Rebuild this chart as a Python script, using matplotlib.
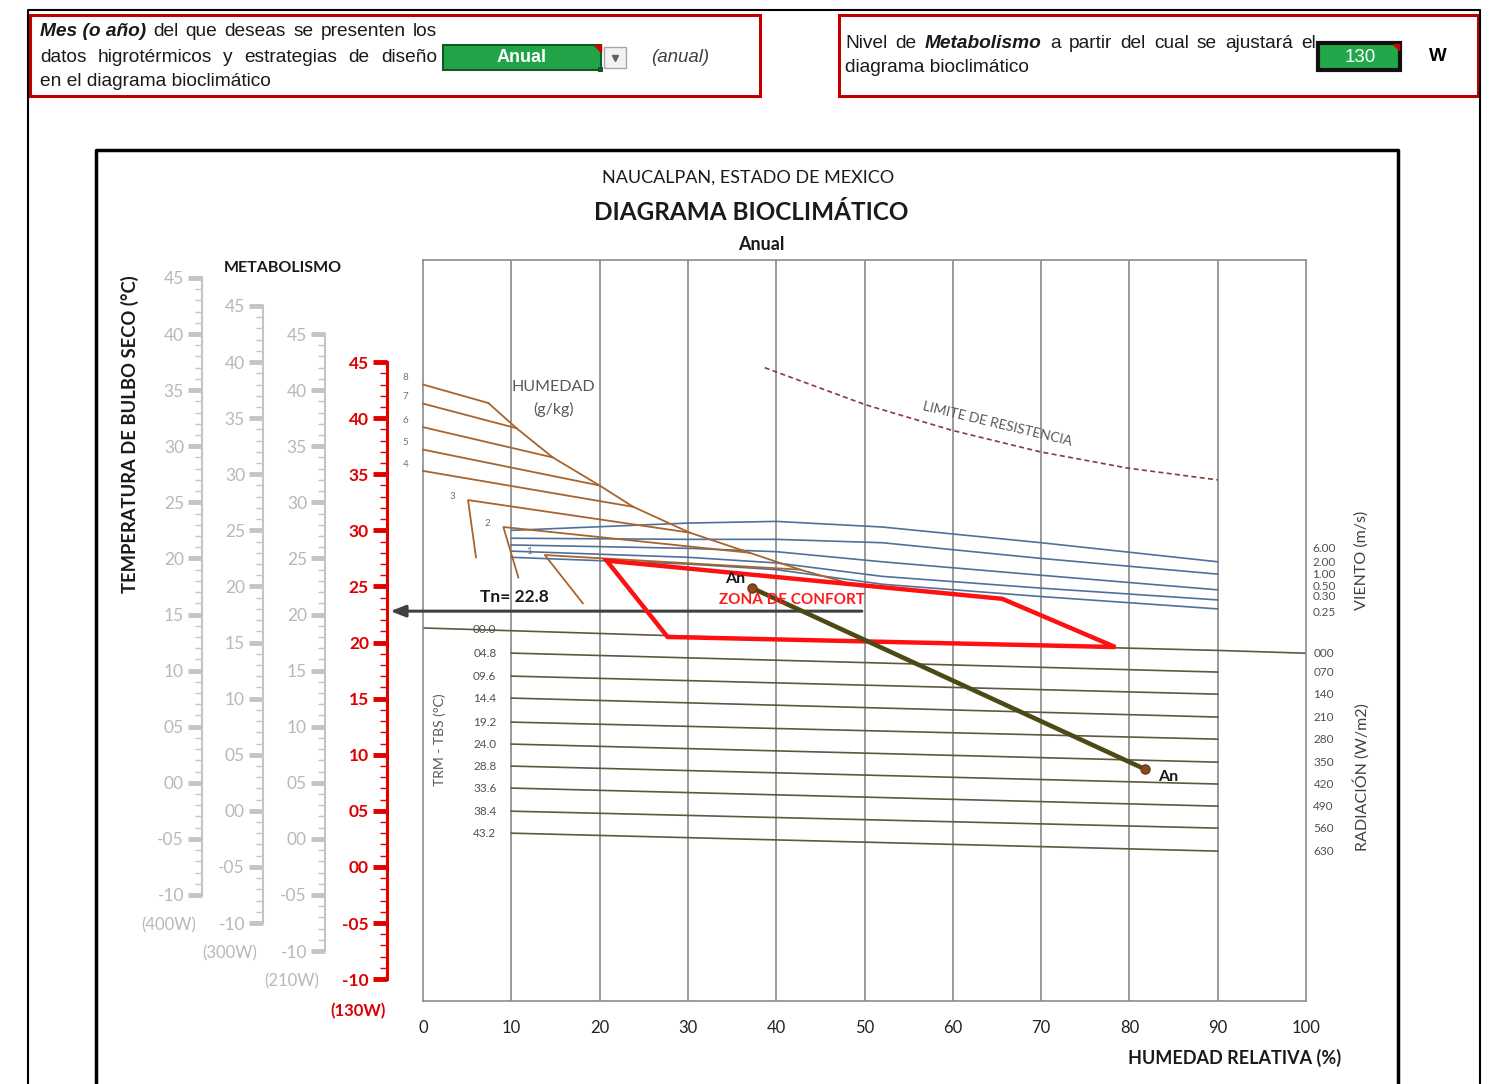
import numpy as np
import matplotlib
matplotlib.use('Agg')
import matplotlib.pyplot as plt
from matplotlib.ticker import FixedLocator, FuncFormatter
from matplotlib.patches import Rectangle, Polygon

plt.rcParams['font.family'] = ['Lato', 'DejaVu Sans']
ARIAL = ['Liberation Sans', 'DejaVu Sans']

# ---------------- data ----------------
city = "NAUCALPAN, ESTADO DE MEXICO"
title = "DIAGRAMA BIOCLIMÁTICO"
period = "Anual"
metabolism_w = "130"
tn = 22.8

rh_ticks = [0, 10, 20, 30, 40, 50, 60, 70, 80, 90, 100]
grid_rh = [10, 20, 30, 40, 50, 60, 70, 80, 90]

# humidity lines (g/kg) in (RH %, T °C)
hum_labels = ['8', '7', '6', '5', '4', '3', '2', '1']
hum_rh = [[0, 7.4], [0, 10.6], [0, 14.7], [0, 20.0], [0, 23.8],
          [6.0, 5.1, 30.2], [10.8, 9.1, 37.0], [18.1, 13.8, 42.7]]
hum_t = [[43.0, 41.35], [41.3, 39.1], [39.2, 36.5], [37.2, 34.0], [35.3, 32.1],
         [27.6, 32.7, 29.8], [25.8, 30.3, 28.0], [23.5, 27.8, 26.5]]
sat_rh = [7.4, 10.6, 14.7, 20.0, 23.8, 30.2, 37.0, 42.7, 49.5]
sat_t = [41.35, 39.1, 36.5, 34.0, 32.1, 29.8, 28.0, 26.5, 25.0]

# wind lines (m/s)
wind_labels = ['6.00', '2.00', '1.00', '0.50', '0.30', '0.25']
wind_rh = [10, 30, 40, 52, 70, 90]
wind_t = [[30.0, 30.65, 30.8, 30.3, 28.9, 27.2],
          [29.3, 29.2, 29.2, 28.9, 27.5, 26.1],
          [28.7, 28.4, 28.1, 27.2, 26.0, 24.7],
          [28.15, 27.6, 27.1, 25.9, 24.85, 23.8],
          [27.6, 27.0, 26.5, 25.2, 24.1, 23.0]]

# radiation lines (TRM - TBS)
rad_left_labels = ['00.0', '04.8', '09.6', '14.4', '19.2', '24.0', '28.8', '33.6', '38.4', '43.2']
rad_right_labels = ['000', '070', '140', '210', '280', '350', '420', '490', '560', '630']
rad0_rh = [0, 45, 90, 100]
rad0_t = [21.3, 20.2, 19.3, 19.05]
rad_rh = [10, 90]
rad_start_t = [19.06, 17.01, 15.05, 12.91, 10.95, 8.99, 7.03, 4.97, 3.01]
rad_end_t = [17.37, 15.40, 13.36, 11.39, 9.34, 7.39, 5.42, 3.46, 1.41]

# limit of resistance
lim_rh = [38.7, 50.1, 60.0, 69.9, 79.8, 90.0]
lim_t = [44.5, 41.2, 38.9, 37.0, 35.55, 34.5]

# comfort zone
comfort_rh = [20.8, 65.6, 78.4, 27.7]
comfort_t = [27.3, 23.9, 19.6, 20.5]

# annual climate line
an_rh = [37.3, 81.8]
an_t = [24.85, 8.7]

# metabolism scales
met_labels = ['(400W)', '(300W)', '(210W)', '(130W)']
met_offsets = [7.5, 5.0, 2.5, 0.0]
scale_ticks = list(range(-10, 46, 5))
scale_minor = list(range(-10, 46, 1))

# ---------------- layout ----------------
W, H = 1489, 1084
fig = plt.figure(figsize=(W / 100, H / 100), dpi=100)
fig.patch.set_facecolor('white')


def rect(x0, y0, x1, y1):
    return [x0 / W, 1 - y1 / H, (x1 - x0) / W, (y1 - y0) / H]


T_BOT, T_TOP = -11.95, 54.1

bg = fig.add_axes([0, 0, 1, 1], zorder=0)
bg.set_xlim(0, W)
bg.set_ylim(H, 0)
bg.axis('off')

# frames
bg.plot([28, 28, 1480, 1480], [H + 5, 10, 10, H + 5], color='black', lw=1.5, clip_on=False)
bg.add_patch(Rectangle((30, 15), 730, 81, fill=False, ec='#c00000', lw=2.2))
bg.add_patch(Rectangle((839, 15), 639, 81, fill=False, ec='#c00000', lw=2.2))
bg.plot([96, 96, 1398, 1398], [H + 5, 150, 150, H + 5], color='black', lw=2.5, clip_on=False)

# header controls
bg.add_patch(Rectangle((443, 45), 158, 25, fc='#21a348', ec='#0f5a26', lw=1.5))
bg.add_patch(Polygon([[594, 45], [601, 45], [601, 52]], closed=True, color='#d00000'))
bg.add_patch(Rectangle((598, 67), 5, 5, fc='#0f5a26', ec='none'))
bg.text(522, 57.5, 'Anual', color='white', fontweight='bold', fontsize=13,
        ha='center', va='center', family=ARIAL)
bg.add_patch(Rectangle((604, 47), 22, 21, fc='#f2f2f2', ec='#a6a6a6', lw=1))
bg.plot([615], [57.5], marker='v', ms=5, color='#606060')
bg.text(680, 57.5, '(anual)', color='#404040', fontstyle='italic', fontsize=13.5,
        ha='center', va='center', family=ARIAL)

bg.add_patch(Rectangle((1318, 43), 82, 27, fc='#22a84a', ec='#111111', lw=3))
bg.add_patch(Polygon([[1393, 44], [1399, 44], [1399, 50]], closed=True, color='#d00000'))
bg.text(1360, 57, metabolism_w, color='white', fontsize=13.5, ha='center', va='center', family=ARIAL)
bg.text(1438, 56.5, 'W', color='black', fontweight='bold', fontsize=13.5, ha='center', va='center',
        family=ARIAL)

renderer = fig.canvas.get_renderer()
HDR = 13.8


def justify(tokens, x0, x1, y, size=HDR):
    texts = []
    for s, bold in tokens:
        t = bg.text(0, y, s, fontsize=size, family=ARIAL, va='center', ha='left',
                    fontweight='bold' if bold else 'normal',
                    fontstyle='italic' if bold else 'normal', color='#1a1a1a')
        texts.append(t)
    widths = [t.get_window_extent(renderer).width for t in texts]
    gap = (x1 - x0 - sum(widths)) / max(len(texts) - 1, 1)
    x = x0
    for t, w in zip(texts, widths):
        t.set_x(x)
        x += w + gap


justify([('Mes (o año)', True), ('del', False), ('que', False), ('deseas', False), ('se', False),
         ('presenten', False), ('los', False)], 40, 437, 32)
justify([('datos', False), ('higrotérmicos', False), ('y', False), ('estrategias', False),
         ('de', False), ('diseño', False)], 40, 437, 57)
bg.text(40, 82, 'en el diagrama bioclimático', fontsize=HDR, family=ARIAL, va='center',
        ha='left', color='#1a1a1a')
justify([('Nivel', False), ('de', False), ('Metabolismo', True), ('a', False), ('partir', False),
         ('del', False), ('cual', False), ('se', False), ('ajustará', False), ('el', False)],
        845, 1316, 44)
bg.text(845, 68, 'diagrama bioclimático', fontsize=HDR, family=ARIAL, va='center',
        ha='left', color='#1a1a1a')

# chart titles
bg.text(748, 178, city, fontsize=13, ha='center', va='center', color='#1a1a1a')
bg.text(751, 212, title, fontsize=17.5, fontweight='bold', ha='center', va='center', color='#1a1a1a')
bg.text(761, 244, period, fontsize=13, fontweight='bold', ha='center', va='center', color='#1a1a1a')
bg.text(1235, 1058, 'HUMEDAD RELATIVA (%)', fontsize=13, fontweight='bold', ha='center',
        va='center', color='#1a1a1a')
bg.text(283, 268, 'METABOLISMO', fontsize=11.5, fontweight='bold', ha='center', va='center',
        color='#1a1a1a')
bg.text(130, 434, 'TEMPERATURA DE BULBO SECO (°C)', fontsize=13.2, fontweight='bold',
        rotation=90, ha='center', va='center', color='#1a1a1a')

# ---------------- main diagram ----------------
ax = fig.add_axes(rect(423, 260, 1306, 1001), zorder=2)
ax.set_facecolor('none')
ax.set_xlim(0, 100)
ax.set_ylim(T_BOT, T_TOP)
for s in ax.spines.values():
    s.set_color('#8c8c8c')
    s.set_linewidth(1.2)
ax.set_xticks(rh_ticks)
ax.set_yticks([])
ax.tick_params(axis='x', length=0, pad=14, labelsize=12, labelcolor='#222222')
for x in grid_rh:
    ax.axvline(x, color='#7f7f7f', lw=1.1, zorder=1)

RAD_C = '#5e5840'
ax.plot(rad0_rh, rad0_t, color=RAD_C, lw=1.2, zorder=2)
ax.text(7, rad0_t[0] - 0.15, rad_left_labels[0], fontsize=8.5, color='#505050', ha='center',
        va='center', zorder=3)
ax.text(102, rad0_t[-1], rad_right_labels[0], fontsize=8.5, color='#505050', ha='center',
        va='center', clip_on=False)
for i, (t0, t1) in enumerate(zip(rad_start_t, rad_end_t)):
    ax.plot(rad_rh, [t0, t1], color=RAD_C, lw=1.2, zorder=2)
    ax.text(7, t0, rad_left_labels[i + 1], fontsize=8.5, color='#505050', ha='center', va='center')
    ax.text(102, t1, rad_right_labels[i + 1], fontsize=8.5, color='#505050', ha='center',
            va='center', clip_on=False)

for tt in wind_t:
    ax.plot(wind_rh, tt, color='#50709c', lw=1.2, zorder=2)

HUM_C = '#a8642c'
for lab, xs, ys in zip(hum_labels, hum_rh, hum_t):
    ax.plot(xs, ys, color=HUM_C, lw=1.3, zorder=3, clip_on=False)
    if xs[0] == 0:
        ax.text(-2.0, ys[0] + 0.6, lab, fontsize=7, color='#707070', ha='center', va='center',
                clip_on=False)
    else:
        ax.text(xs[1] - 1.8, ys[1] + 0.3, lab, fontsize=7, color='#707070', ha='center',
                va='center')
ax.plot(sat_rh, sat_t, color=HUM_C, lw=1.3, zorder=3)

ax.plot(lim_rh, lim_t, color='#8b3a3a', lw=1.2, ls=(0, (3, 2)), zorder=3)

ax.add_patch(Polygon(np.column_stack([comfort_rh, comfort_t]), closed=True, fill=False,
                     ec='#ff1010', lw=3.2, joinstyle='miter', zorder=5))

ax.annotate('', xy=(-3.7, tn), xytext=(49.7, tn),
            arrowprops=dict(arrowstyle='-|>,head_length=0.9,head_width=0.35', color='#404040',
                            lw=2.2, shrinkA=0, shrinkB=0),
            annotation_clip=False, zorder=4)

ax.plot(an_rh, an_t, color='#4c4a14', lw=3.3, zorder=6, solid_capstyle='round')
ax.plot(an_rh, an_t, ls='none', marker='o', ms=6.5, mfc='#8b4a1a', mec='#6b3a10', zorder=7)

# texts in diagram
ax.text(14.8, 42.8, 'HUMEDAD', fontsize=11.5, color='#595959', ha='center', va='center')
ax.text(14.8, 40.8, '(g/kg)', fontsize=11.5, color='#595959', ha='center', va='center')
ax.text(65.0, 39.47, 'LIMITE DE RESISTENCIA', fontsize=10, color='#595959', ha='center',
        va='center', rotation=-13.5, rotation_mode='anchor')
ax.text(1.9, 11.3, 'TRM - TBS (°C)', fontsize=10, color='#595959', ha='center', va='center',
        rotation=90)
ax.text(106.3, 27.35, 'VIENTO (m/s)', fontsize=11.5, color='#404040', ha='center', va='center',
        rotation=90, clip_on=False)
ax.text(106.3, 8.0, 'RADIACIÓN (W/m2)', fontsize=11.5, color='#404040', ha='center', va='center',
        rotation=90, clip_on=False)
ax.text(10.4, 24.1, f'Tn= {tn}', fontsize=12.5, fontweight='bold', color='#1a1a1a', ha='center',
        va='center', zorder=8)
ax.text(35.3, 25.7, 'An', fontsize=11.5, fontweight='bold', color='#1a1a1a', ha='center',
        va='center', zorder=8)
ax.text(84.4, 8.0, 'An', fontsize=11.5, fontweight='bold', color='#1a1a1a', ha='center',
        va='center', zorder=8)
ax.text(41.8, 23.75, 'ZONA DE CONFORT', fontsize=11, fontweight='bold', color='#ff1a1a',
        ha='center', va='center', zorder=8)

# wind labels (right)
for lab, ypx in zip(wind_labels, [549, 562, 574, 586, 597, 613]):
    bg.text(1324, ypx, lab, fontsize=8.5, color='#505050', ha='center', va='center')

# ---------------- metabolism scales ----------------
spine_px = [202, 263, 325, 387]
label_px = [(169, 925), (230, 953), (292, 981), (358, 1011)]


def fmt(v, pos):
    v = int(round(v))
    return f"{v:03d}" if v < 0 else f"{v:02d}"


for lab, off, xpx, lpos in zip(met_labels, met_offsets, spine_px, label_px):
    red = off == 0
    a = fig.add_axes(rect(xpx, 260, xpx + 1, 1001), zorder=3)
    a.set_facecolor('none')
    a.set_ylim(T_BOT - off, T_TOP - off)
    a.set_xticks([])
    for k in ['right', 'top', 'bottom']:
        a.spines[k].set_visible(False)
    col = '#e00000' if red else '#c4c4c4'
    lcol = '#dd0000' if red else '#b8b8b8'
    a.spines['left'].set_bounds(-10, 45)
    a.spines['left'].set_color(col)
    a.spines['left'].set_linewidth(2.2 if red else 1.5)
    a.yaxis.set_major_locator(FixedLocator(scale_ticks))
    a.yaxis.set_minor_locator(FixedLocator(scale_minor))
    a.yaxis.set_major_formatter(FuncFormatter(fmt))
    a.tick_params(axis='y', which='major', length=10, width=3.5, color=col, labelcolor=lcol,
                  labelsize=12.5, pad=3)
    a.tick_params(axis='y', which='minor', length=5, width=1.0, color=col)
    if red:
        for tl in a.get_yticklabels():
            tl.set_fontweight('bold')
    bg.text(lpos[0], lpos[1], lab, fontsize=12, color=lcol, ha='center', va='center',
            fontweight='bold' if red else 'normal')

fig.savefig('out.png', dpi=100, facecolor='white')
